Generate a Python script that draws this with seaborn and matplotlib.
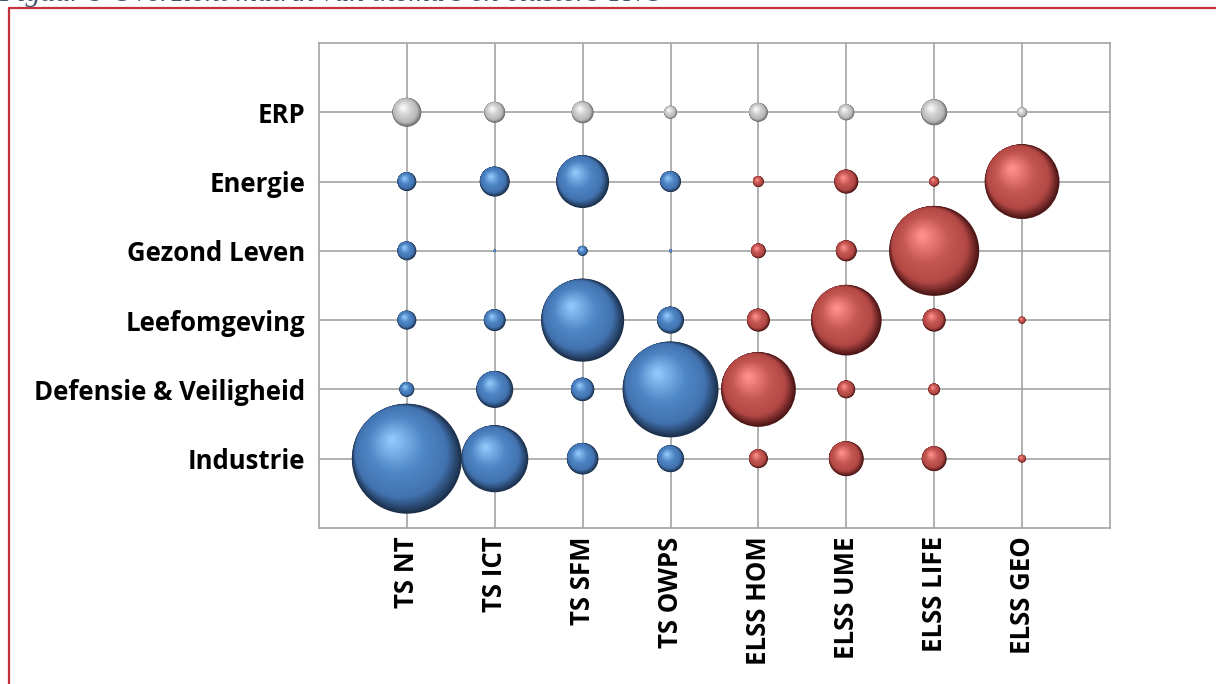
import numpy as np
import pandas as pd
import matplotlib
matplotlib.use("Agg")
import matplotlib.pyplot as plt
import matplotlib.colors as mcolors
from matplotlib.path import Path
from matplotlib.lines import Line2D
import seaborn as sns

# thema's (rijen, van boven naar beneden) en clusters (kolommen)
themes = ["ERP", "Energie", "Gezond Leven", "Leefomgeving", "Defensie & Veiligheid", "Industrie"]
clusters = ["TS NT", "TS ICT", "TS SFM", "TS OWPS", "ELSS HOM", "ELSS UME", "ELSS LIFE", "ELSS GEO"]

# bubbelgrootte (oppervlak) per thema, in volgorde van clusters
erp = [8.4, 4.4, 4.8, 1.7, 3.6, 2.6, 6.8, 1.0]
energie = [3.6, 9.0, 28.0, 4.4, 1.2, 5.8, 1.0, 56.0]
gezond_leven = [3.6, 0.06, 1.0, 0.09, 2.2, 4.4, 81.0, 0.0]
leefomgeving = [3.6, 4.8, 69.0, 7.3, 5.3, 50.0, 5.3, 0.5]
defensie = [2.2, 13.7, 5.5, 92.0, 56.0, 3.2, 1.4, 0.0]
industrie = [121.0, 45.0, 10.0, 7.3, 3.6, 12.2, 6.2, 0.6]

rows = [erp, energie, gezond_leven, leefomgeving, defensie, industrie]

records = []
for i, (theme, vals) in enumerate(zip(themes, rows)):
    for j, (cl, v) in enumerate(zip(clusters, vals)):
        group = "ERP" if theme == "ERP" else cl.split()[0]
        records.append({"theme": theme, "cluster": cl, "x": j + 1,
                        "y": len(themes) - i, "value": v, "group": group})
df = pd.DataFrame(records)
df = df[df["value"] > 0]

# kleuren: donkere rand, basis, iets lichter, highlight
ramps = {
    "TS": ("#1b2f4a", "#4273b0", "#4f86c6", "#90c6f8"),
    "ELSS": ("#4a1515", "#b24845", "#c55754", "#ff8f8c"),
    "ERP": ("#6a6a6a", "#b8b8b8", "#d0d0d0", "#fafafa"),
}
# sleutelvormen van de schaduwlagen: (cx, cy, r)
keys = [(0.0, 0.0, 1.0), (-0.10, 0.12, 0.84), (-0.18, 0.24, 0.52), (-0.27, 0.34, 0.07)]
key_t = [0.0, 0.3, 0.65, 1.0]


def interp(t):
    for a in range(len(key_t) - 1):
        if t <= key_t[a + 1]:
            f = (t - key_t[a]) / (key_t[a + 1] - key_t[a])
            return a, f
    return len(key_t) - 2, 1.0


def ramp_color(stops, t):
    a, f = interp(t)
    c0 = np.array(mcolors.to_rgb(stops[a]))
    c1 = np.array(mcolors.to_rgb(stops[a + 1]))
    return mcolors.to_hex(c0 + (c1 - c0) * f)


def layer_marker(t):
    # geneste cirkel binnen de eenheidscirkel, ankerpunt houdt de schaal vast
    a, f = interp(t)
    k0, k1 = np.array(keys[a]), np.array(keys[a + 1])
    cx, cy, r = k0 + (k1 - k0) * f
    circ = Path.circle((cx, cy), r)
    anchor = Path([[1.0, 0.0]], [Path.MOVETO])
    return Path.make_compound_path(anchor, circ)


sns.set_theme(style="white")
plt.rcParams["font.family"] = ["Open Sans", "DejaVu Sans"]

fig = plt.figure(figsize=(12.16, 6.84), dpi=100)
ax = fig.add_axes([0.2623, 0.2281, 0.6505, 0.709])

vmax = df["value"].max()
smax = (110 * 0.72) ** 2

n_layers = 32
for k in range(n_layers):
    t = k / (n_layers - 1)
    pal = {g: ramp_color(stops, t) for g, stops in ramps.items()}
    sns.scatterplot(data=df, x="x", y="y", hue="group", palette=pal,
                    size="value", sizes=(0, smax), size_norm=(0, vmax),
                    marker=layer_marker(t), linewidth=0, edgecolor="none",
                    legend=False, ax=ax, zorder=3 + k)

ax.set_xlim(0, 9)
ax.set_ylim(0, 7)
ax.set_xticks(range(1, len(clusters) + 1))
ax.set_xticklabels(clusters, rotation=90, fontweight="bold", fontsize=18.5)
ax.set_yticks(range(1, len(themes) + 1))
ax.set_yticklabels(themes[::-1], fontweight="bold", fontsize=18.5)
ax.set_xlabel("")
ax.set_ylabel("")
ax.set_axisbelow(True)
ax.grid(True, color="#a3a3a3", linewidth=1.2)
for sp in ax.spines.values():
    sp.set_color("#a3a3a3")
    sp.set_linewidth(1.2)
ax.tick_params(axis="x", length=4.5, width=1.2, color="#a3a3a3", pad=1.5, labelcolor="black")
ax.tick_params(axis="y", length=0, pad=10, labelcolor="black")

# kader en (afgesneden) bijschrift
red = "#c4303c"
fig.add_artist(Line2D([9 / 1216, 1.0], [1 - 8 / 684, 1 - 8 / 684], color=red, lw=1.6,
                      transform=fig.transFigure))
fig.add_artist(Line2D([9 / 1216, 9 / 1216], [1 - 8 / 684, 0.0], color=red, lw=1.6,
                      transform=fig.transFigure))
fig.text(-0.001, 1 - 1 / 684, "Figuur 9 Overzicht matrix van thema's en clusters TNO",
         fontstyle="italic", fontsize=21.5, color="#44546a", va="baseline",
         family=["Liberation Serif", "DejaVu Serif"])

fig.savefig("out.png", dpi=100)
